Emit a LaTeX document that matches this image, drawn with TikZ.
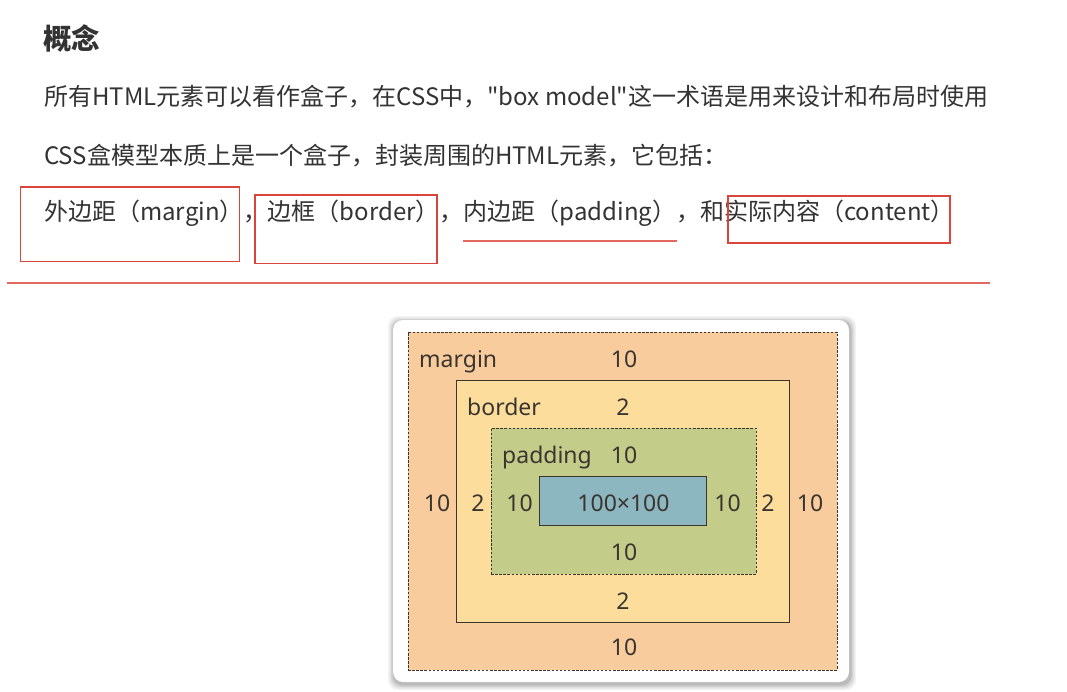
\documentclass[tikz,border=0pt]{standalone}
\usepackage{fontspec}
\setmainfont{Noto Sans}
\newfontfamily\cjk{Noto Sans CJK SC}
\definecolor{txt}{HTML}{333333}
\definecolor{lbltxt}{HTML}{3A3530}
\definecolor{edge}{HTML}{3B3530}
\definecolor{redc}{HTML}{D9443B}
\definecolor{redl}{HTML}{E3695F}
\definecolor{marginc}{HTML}{F9CC9D}
\definecolor{borderc}{HTML}{FDDD9B}
\definecolor{paddingc}{HTML}{C3CD89}
\definecolor{contentc}{HTML}{8CB6C0}
\begin{document}
\begin{tikzpicture}[x=1pt,y=-1pt,
  body/.style={font=\cjk\fontsize{24}{28}\selectfont, text=txt, anchor=base west, inner sep=0pt},
  title/.style={font=\cjk\bfseries\fontsize{28.5}{33}\selectfont, text=txt, anchor=base west, inner sep=0pt},
  lbl/.style={font=\fontsize{23}{27}\selectfont, text=lbltxt, anchor=base, inner sep=0pt},
  lblw/.style={lbl, anchor=base west},
  layer/.style={draw=edge, line width=0.9pt, inner sep=0pt},
  dlayer/.style={layer, dash pattern=on 2.5pt off 1.6pt},
  redbox/.style={draw=redc, line width=1.2pt},
]
\useasboundingbox (0,0) rectangle (1067,692);
\fill[white] (0,0) rectangle (1067,692);

% header text
\node[title] (t0) at (43,49.5) {概念};
\node[body] (t1) at (44,106) {所有HTML元素可以看作盒子，在CSS中，"box model"这一术语是用来设计和布局时使用};
\node[body] (t2) at (44,165) {CSS盒模型本质上是一个盒子，封装周围的HTML元素，它包括：};
\node[body] (t3) at (44,221) {外边距（margin），边框（border），内边距（padding），和实际内容（content）};

% red annotations
\draw[redbox] (20.5,187) rectangle (239.5,261.5);
\draw[redbox] (255,195) rectangle (437,263.5);
\draw[redl, line width=1.3pt] (463,241) -- (677,241);
\draw[redbox] (728,196) rectangle (950,243);
\draw[redl, line width=1.4pt] (7,283) -- (990,283);

% card with soft shadow
\foreach \s/\o in {6/0.05,4.5/0.06,3/0.08,1.5/0.10}{
  \fill[black, opacity=\o, rounded corners=10pt] (393-\s+1,320-\s+2) rectangle (849+\s+1,682+\s+2);
}
\node[fill=white, rounded corners=10pt, minimum width=456pt, minimum height=362pt, inner sep=0pt] (card) at (621,501) {};

% box model layers
\node[dlayer, fill=marginc, minimum width=429pt, minimum height=338pt] (margin) at (622.5,501) {};
\node[layer, fill=borderc, minimum width=333pt, minimum height=242pt] (border) at (622.5,501) {};
\node[dlayer, fill=paddingc, minimum width=265pt, minimum height=146pt] (padding) at (623.5,501) {};
\node[layer, fill=contentc, minimum width=167pt, minimum height=49pt] (content) at (622.5,500.5) {};

% labels
\node[lblw] (lm) at (419,367.5) {margin};
\node[lbl] (mt) at (624,367.5) {10};
\node[lblw] (lb) at (467,415.5) {border};
\node[lbl] (bt) at (623,415.5) {2};
\node[lblw] (lp) at (502,463.3) {padding};
\node[lbl] (pt) at (624,463.3) {10};
\node[lbl] (ml) at (437,511.5) {10};
\node[lbl] (bl) at (478,511.5) {2};
\node[lbl] (pl) at (519.5,511.5) {10};
\node[lbl] (cc) at (623.5,511.5) {100×100};
\node[lbl] (pr) at (727.5,511.5) {10};
\node[lbl] (br) at (768,511.5) {2};
\node[lbl] (mr) at (810,511.5) {10};
\node[lbl] (pb) at (624,560) {10};
\node[lbl] (bb) at (623,609) {2};
\node[lbl] (mb) at (624,655.7) {10};
\end{tikzpicture}
\end{document}
